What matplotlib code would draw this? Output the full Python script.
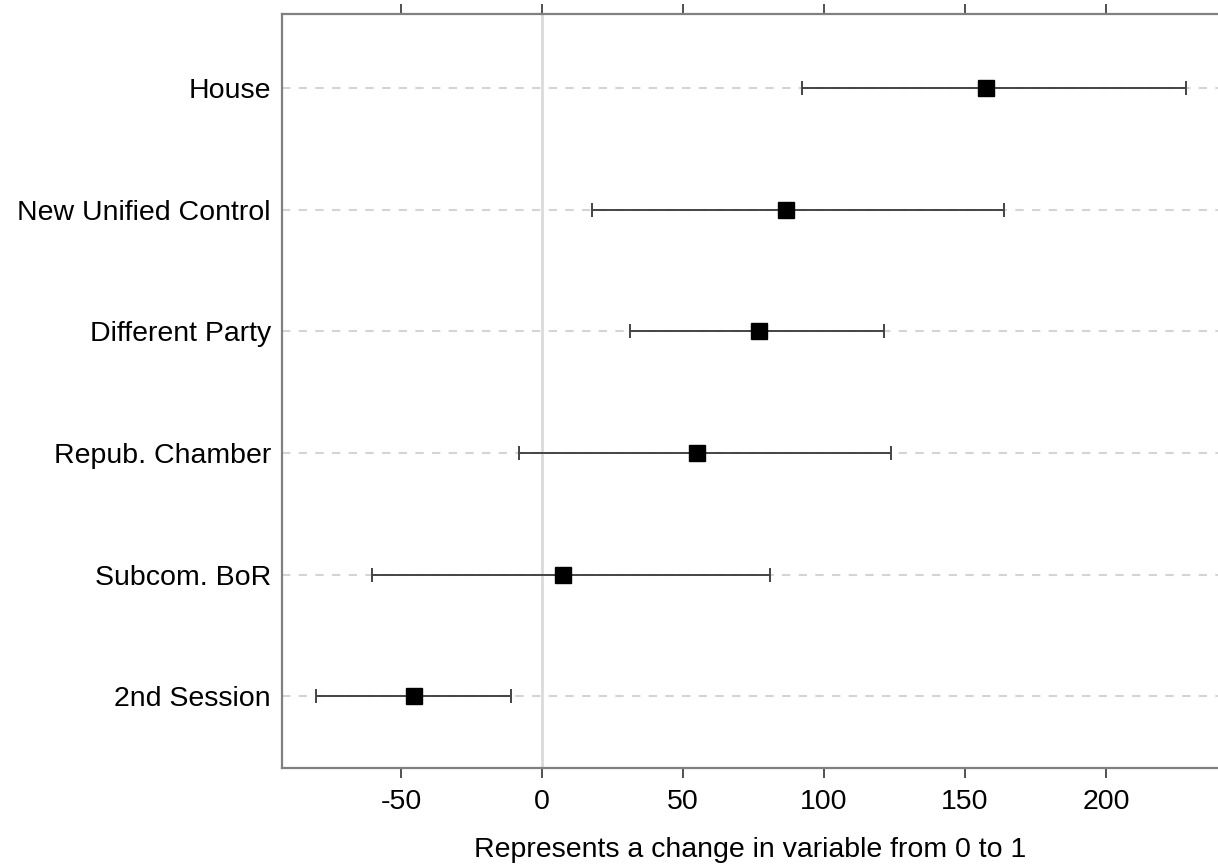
import matplotlib.pyplot as plt

plt.rcParams['font.family'] = ['Liberation Sans', 'DejaVu Sans']
plt.rcParams['axes.unicode_minus'] = False

labels = ['House', 'New Unified Control', 'Different Party',
          'Repub. Chamber', 'Subcom. BoR', '2nd Session']
estimate = [157.4, 86.5, 77.0, 55.0, 7.6, -45.4]
lower = [92.2, 17.7, 31.2, -8.2, -60.3, -80.1]
upper = [228.4, 163.8, 121.3, 123.9, 80.9, -11.0]
xticks = [-50, 0, 50, 100, 150, 200]

fig = plt.figure(figsize=(12.18, 8.64), dpi=100)
ax = fig.add_axes([0.2315, 0.111, 0.7685, 0.8727])

ypos = list(range(len(labels), 0, -1))
err_lo = [e - l for e, l in zip(estimate, lower)]
err_hi = [u - e for e, u in zip(estimate, upper)]

# light reference lines
for y in ypos:
    ax.axhline(y, color='#d4d4d4', lw=1.5, ls=(0, (4, 4)), zorder=0)
ax.axvline(0, color='#dadada', lw=2, zorder=0)

ax.errorbar(estimate, ypos, xerr=[err_lo, err_hi], fmt='s', color='black',
            ms=12, ecolor='#444444', elinewidth=1.4, capsize=5, capthick=1.4,
            zorder=3)

ax.set_xlim(-92.2, 239.7)
ax.set_ylim(0.41, 6.61)
ax.set_xticks(xticks)
ax.set_yticks(ypos)
ax.set_yticklabels(labels, fontsize=20.5)
ax.tick_params(axis='y', length=0, pad=8)
ax.tick_params(axis='x', labelsize=20.5, length=7, width=1.2, color='#333333',
               direction='out', top=True, pad=8)
ax.set_xlabel('Represents a change in variable from 0 to 1', fontsize=20.5,
              labelpad=16)

for side in ['left', 'top', 'bottom']:
    ax.spines[side].set_color('#808080')
    ax.spines[side].set_linewidth(1.6)
ax.spines['right'].set_visible(False)

fig.savefig('out.png', dpi=100)
